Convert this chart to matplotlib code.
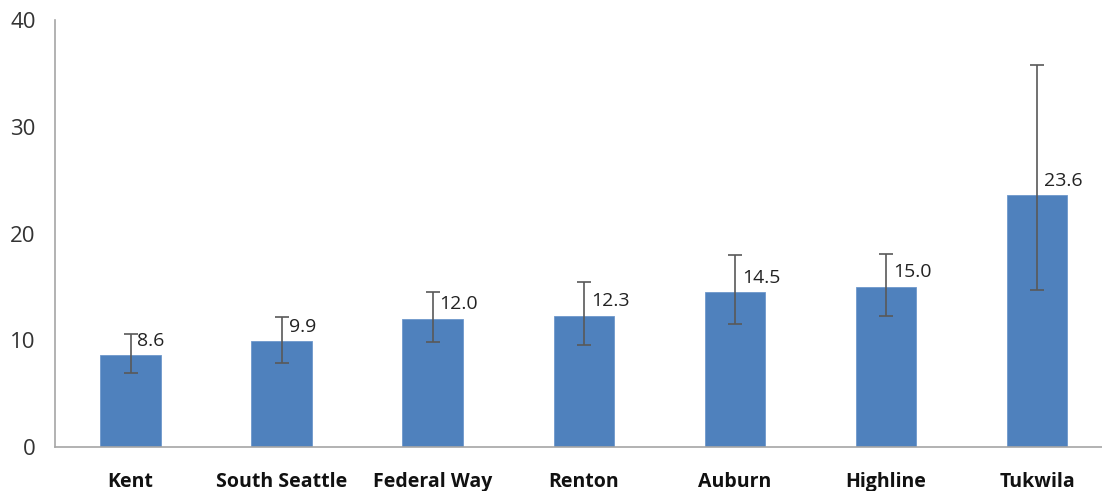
import matplotlib
matplotlib.use("Agg")
import matplotlib.pyplot as plt
import numpy as np

categories = ["Kent", "South Seattle", "Federal Way", "Renton", "Auburn", "Highline", "Tukwila"]
values = [8.6, 9.9, 12.0, 12.3, 14.5, 15.0, 23.6]
err_low = [6.9, 7.9, 9.8, 9.6, 11.5, 12.3, 14.7]
err_high = [10.6, 12.2, 14.5, 15.5, 18.0, 18.1, 35.8]
yticks = [0, 10, 20, 30, 40]

plt.rcParams['font.family'] = ['Open Sans', 'DejaVu Sans']

fig = plt.figure(figsize=(11.02, 4.91), dpi=100)
ax = fig.add_axes([55/1102, 44/491, 1 - 55/1102, (447-20)/491])

x = np.arange(len(categories))
vals = np.array(values)
lower = vals - np.array(err_low)
upper = np.array(err_high) - vals

ax.bar(x, vals, width=0.4, color="#4F81BD", edgecolor="#6E98CC", linewidth=0.6, zorder=2)
ax.errorbar(x, vals, yerr=[lower, upper], fmt='none', ecolor="#595959",
            elinewidth=1.2, capsize=5, capthick=1.2, zorder=3)

for xi, v in zip(x, values):
    ax.annotate(f"{v:.1f}", xy=(xi, v), xytext=(5, 4), textcoords="offset points",
                ha="left", va="bottom", fontsize=14, color="#222222")

ax.set_xlim(-0.5, 6.43)
ax.set_ylim(0, 40)
ax.set_yticks(yticks)
ax.set_yticklabels([str(t) for t in yticks], fontsize=16, color="#333333")
ax.set_xticks(x)
ax.set_xticklabels(categories, fontsize=14, fontweight="bold", color="#111111")
ax.tick_params(axis='y', length=0, pad=14)
ax.tick_params(axis='x', length=0, pad=18)

for s in ["top", "right"]:
    ax.spines[s].set_visible(False)
for s in ["left", "bottom"]:
    ax.spines[s].set_color("#A6A6A6")
    ax.spines[s].set_linewidth(1.2)

fig.savefig("out.png", dpi=100)
